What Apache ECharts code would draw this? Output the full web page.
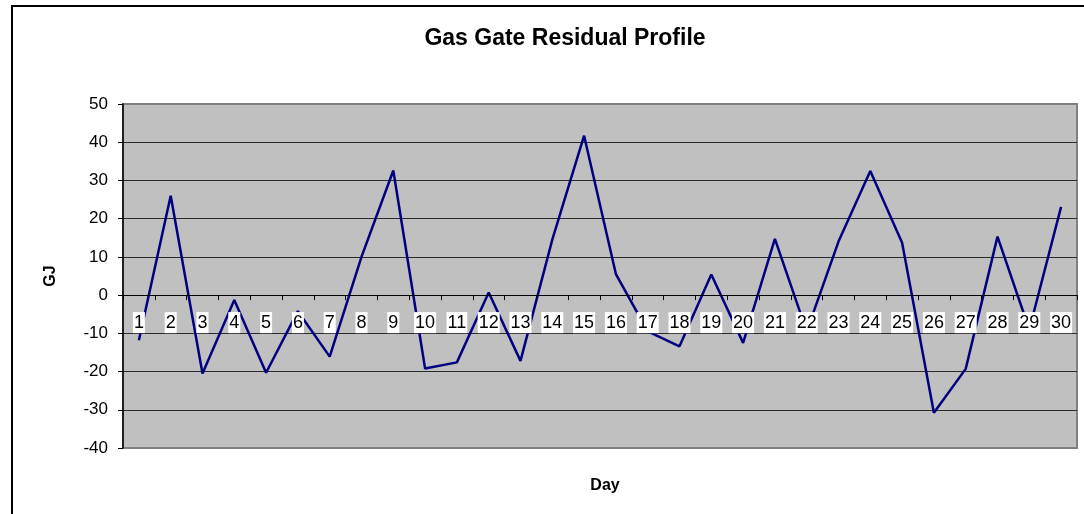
<!DOCTYPE html>
<html>
<head>
<meta charset="utf-8">
<title>Gas Gate Residual Profile</title>
<script src="https://cdn.jsdelivr.net/npm/echarts@6/dist/echarts.min.js"></script>
<style>
  html, body { margin: 0; padding: 0; background: #fff; }
  #chart { width: 1084px; height: 514px; }
</style>
</head>
<body>
<div id="chart"></div>
<script>
// days 1..30 and the residual per day (GJ)
const days = ['1', '2', '3', '4', '5', '6', '7', '8', '9', '10',
  '11', '12', '13', '14', '15', '16', '17', '18', '19', '20',
  '21', '22', '23', '24', '25', '26', '27', '28', '29', '30']
const residual = [-11.8, 26, -20.5, -1.3, -20.3, -4.2, -16.1, 10, 32.6, -19.2,
  -17.6, 0.7, -17.2, 14.5, 41.7, 5.5, -9.5, -13.4, 5.4, -12.5,
  14.7, -9.5, 14, 32.5, 13.7, -30.8, -19.3, 15.3, -9, 23.1]
const yTicks = [-40, -30, -20, -10, 0, 10, 20, 30, 40, 50]

const FONT = 'Arial, "Liberation Sans", sans-serif'

// plot box: left 123, top 104, right edge 1077, bottom 448
const PLOT_TOP = 104
const PLOT_BOTTOM = 448
// the category axis sits on the zero line, so lift it from the bottom edge
const zeroLift = (PLOT_BOTTOM - PLOT_TOP) * (0 - yTicks[0]) / (yTicks[yTicks.length - 1] - yTicks[0])

// gray for the plot's own top/bottom edge, dark for the inner grid lines
const splitColors = yTicks.map((v, i) =>
  (i === 0 || i === yTicks.length - 1) ? '#808080' : '#2b2b2b')

const chart = echarts.init(document.getElementById('chart'), null, { renderer: 'canvas' })

chart.setOption({
  animation: false,
  backgroundColor: '#fff',
  textStyle: { fontFamily: FONT },
  title: [
    {
      text: 'Gas Gate Residual Profile',
      left: 560,
      top: 22,
      textAlign: 'center',
      textStyle: { fontFamily: FONT, fontSize: 23, fontWeight: 'bold', color: '#000' },
    },
    {
      text: 'Day',
      left: 600,
      top: 473,
      textAlign: 'center',
      textStyle: { fontFamily: FONT, fontSize: 16, fontWeight: 'bold', color: '#000' },
    },
  ],
  graphic: [
    {
      type: 'rect',
      shape: { x: 12, y: 6, width: 1100, height: 530 },
      style: { fill: 'none', stroke: '#000', lineWidth: 2 },
      silent: true,
    },
  ],
  grid: {
    left: 123,
    right: 7,
    top: PLOT_TOP,
    bottom: 514 - PLOT_BOTTOM,
    show: true,
    backgroundColor: '#c0c0c0',
    borderColor: '#808080',
    borderWidth: 2,
  },
  xAxis: {
    type: 'category',
    data: days,
    boundaryGap: true,
    z: 10,
    offset: -zeroLift,
    axisLine: { onZero: false, lineStyle: { color: '#000', width: 1 } },
    axisTick: { show: true, inside: false, length: 5, lineStyle: { color: '#000' } },
    axisLabel: {
      interval: 0,
      margin: 17,
      fontFamily: FONT,
      fontSize: 18,
      color: '#000',
      backgroundColor: '#fff',
      lineHeight: 21,
      padding: [0, 1, 0, 1],
    },
    splitLine: { show: false },
  },
  yAxis: {
    type: 'value',
    min: -40,
    max: 50,
    interval: 10,
    name: 'GJ',
    nameLocation: 'middle',
    nameGap: 64,
    nameTextStyle: { fontFamily: FONT, fontSize: 16, fontWeight: 'bold', color: '#000' },
    axisLine: { show: true, lineStyle: { color: '#000', width: 1.5 } },
    axisTick: { show: true, length: 5, lineStyle: { color: '#000' } },
    axisLabel: { fontFamily: FONT, fontSize: 17, color: '#000', margin: 15 },
    splitLine: { show: true, lineStyle: { color: splitColors, width: 1 } },
  },
  series: [
    {
      name: 'Residual',
      type: 'line',
      data: residual,
      symbol: 'none',
      z: 2,
      lineStyle: { color: '#000080', width: 2.5 },
      itemStyle: { color: '#000080' },
    },
  ],
})

window.addEventListener('resize', () => chart.resize())
</script>
</body>
</html>
